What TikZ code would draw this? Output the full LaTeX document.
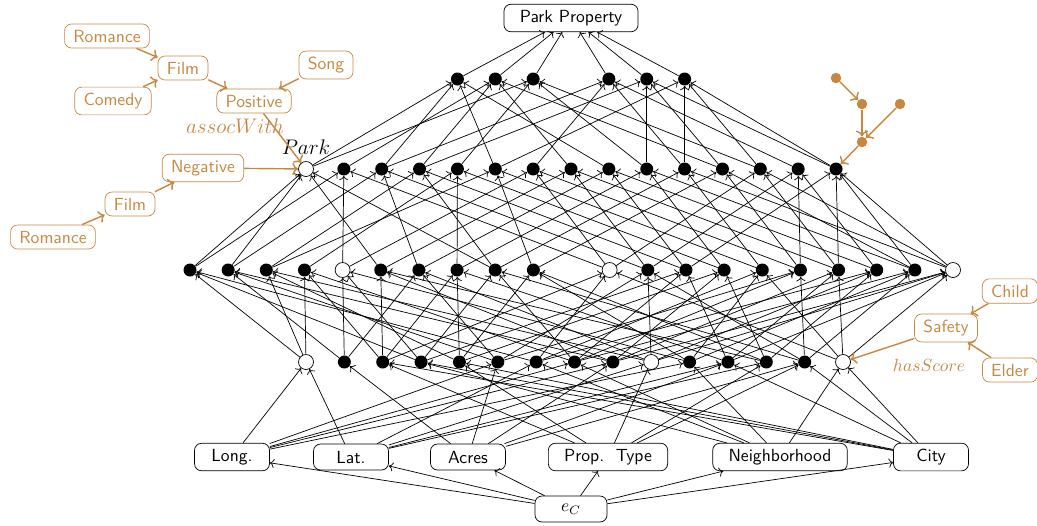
\documentclass[tikz,border=0pt]{standalone}
\usepackage{amsmath}
\usetikzlibrary{arrows.meta,positioning,calc}
\definecolor{ochre}{RGB}{198,135,65}
\begin{document}
\begin{tikzpicture}[x=0.02cm,y=-0.02cm,>=To,font=\sffamily,
 box/.style={draw,rounded corners,minimum width=1.5cm,minimum height=0.52cm,inner xsep=9pt},
 obox/.style={draw=ochre,text=ochre,rounded corners,inner xsep=5pt,minimum height=0.48cm},
 dot/.style={circle,fill,inner sep=0pt,minimum size=0.26cm},
 hole/.style={circle,draw,fill=white,inner sep=0pt,minimum size=0.3cm},
 odot/.style={circle,fill=ochre,inner sep=0pt,minimum size=0.21cm},
 oarr/.style={->,ochre,thick},link/.style={->}]
\useasboundingbox (0,0) rectangle (1037,525);
% property, inputs and e_C
\node[box](top)at(571,18){Park Property};
\node[box](lon)at(232,457){Long.};
\node[box](lat)at(351,457){Lat.};
\node[box](acr)at(468,457){Acres};
\node[box](pty)at(608,457){Prop.\ \ Type};
\node[box](nbh)at(780,457){Neighborhood};
\node[box](cty)at(931,457){City};
\node[box,minimum width=1.44cm](ec)at(571,509){$e_C$};
\foreach \b in {lon,lat,acr,pty,nbh,cty} \draw[link](ec)--(\b);
% the four layers
\foreach \i in {1,...,8,10,11,12,13} \node[dot](p\i)at({306+38.36*\i},362){};
\foreach \i in {0,9,14} \node[hole](p\i)at({306+38.36*\i},362){};
\foreach \i in {0,...,3,5,6,...,9,12,13,...,19} \node[dot](q\i)at({190+38.15*\i},270){};
\foreach \i in {4,11,20} \node[hole](q\i)at({190+38.15*\i},270){};
\foreach \i in {1,...,14} \node[dot](r\i)at({306+37.86*\i},169){};
\node[hole,label={[font=\large]above:$Park$}](r0)at(306,169){};
\foreach \i in {4,5,6,8,9,10} \node[dot](s\i)at({306+37.86*\i},79){};
% connections
\foreach \b/\l in {lon/{0,5,7,8,10},lat/{0,6,9,11,12},acr/{1,5,8,11,13},pty/{2,4,9,12,13},
 nbh/{3,6,7,10,14},cty/{2,3,4,11,13,14}}
 \foreach \i in \l \draw[link](\b)--(p\i);
\foreach \j/\l in {0/{0,3,6},1/{1,5,8},2/{0,4,9},3/{0,2,7},4/{1,3,10},5/{2,8,12},6/{1,5,9},
 7/{2,4,11},8/{3,7,13},9/{4,10,12},11/{2,6,14},12/{5,9,13},13/{3,7,11},14/{4,8,12},
 15/{6,10,14},16/{5,7,13},17/{8,11,14},18/{6,9,12},19/{7,10,13},20/{8,9,11,14}}
 \foreach \i in \l \draw[link](p\i)--(q\j);
\foreach \j/\l in {0/{0,1,5,8},1/{0,4,11},2/{1,6,12},3/{2,8,13},4/{3,7,14},5/{2,9,15},
 6/{4,11,16},7/{5,12,17},8/{6,13,18},9/{7,14,19},10/{8,15,20},11/{9,16,19},
 12/{11,17,20},13/{12,16,18},14/{13,17,19,20}}
 \foreach \i in \l \draw[link](q\i)--(r\j);
\foreach \j/\l in {4/{0,2,5,8},5/{1,3,7,11},6/{0,4,9,12},8/{2,6,10,13},9/{3,9,11,14},10/{5,10,12,14}}
 \foreach \i in \l \draw[link](r\i)--(s\j);
\foreach \j in {4,5,6,8,9,10} \draw[link](s\j)--(top);
% knowledge graph around Park
\node[obox](rom)at(107,36){Romance};
\node[obox](film)at(183,68){Film};
\node[obox](com)at(113,101){Comedy};
\node[obox](pos)at(254,101){Positive};
\node[obox](song)at(326,65){Song};
\node[obox](neg)at(203,168){Negative};
\node[obox](filmb)at(130,204){Film};
\node[obox](romb)at(53,237){Romance};
\node[ochre,font=\large](assoc)at(235,126){$assocWith$};
\draw[oarr](rom)--(film);\draw[oarr](com)--(film);
\draw[oarr](film)--(pos);\draw[oarr](song)--(pos);
\draw[oarr](pos)--(r0);\draw[oarr](neg)--(r0);
\draw[oarr](romb)--(filmb);\draw[oarr](filmb)--(neg);
% small graph on the right
\node[odot](ka)at(836,78){};\node[odot](kb)at(862,104){};
\node[odot](kc)at(900,104){};\node[odot](kd)at(862,142){};
\draw[oarr](ka)--(kb);\draw[oarr](kb)--(kd);\draw[oarr](kc)--(kd);\draw[oarr](kd)--(r14);
% safety score
\node[obox](child)at(1010,291){Child};
\node[obox](safe)at(946,328){Safety};
\node[obox](elder)at(1010,370){Elder};
\node[ochre](score)at(929,365){$hasScore$};
\draw[oarr](child)--(safe);\draw[oarr](elder)--(safe);\draw[oarr](safe)--(p14);
\end{tikzpicture}
\end{document}
